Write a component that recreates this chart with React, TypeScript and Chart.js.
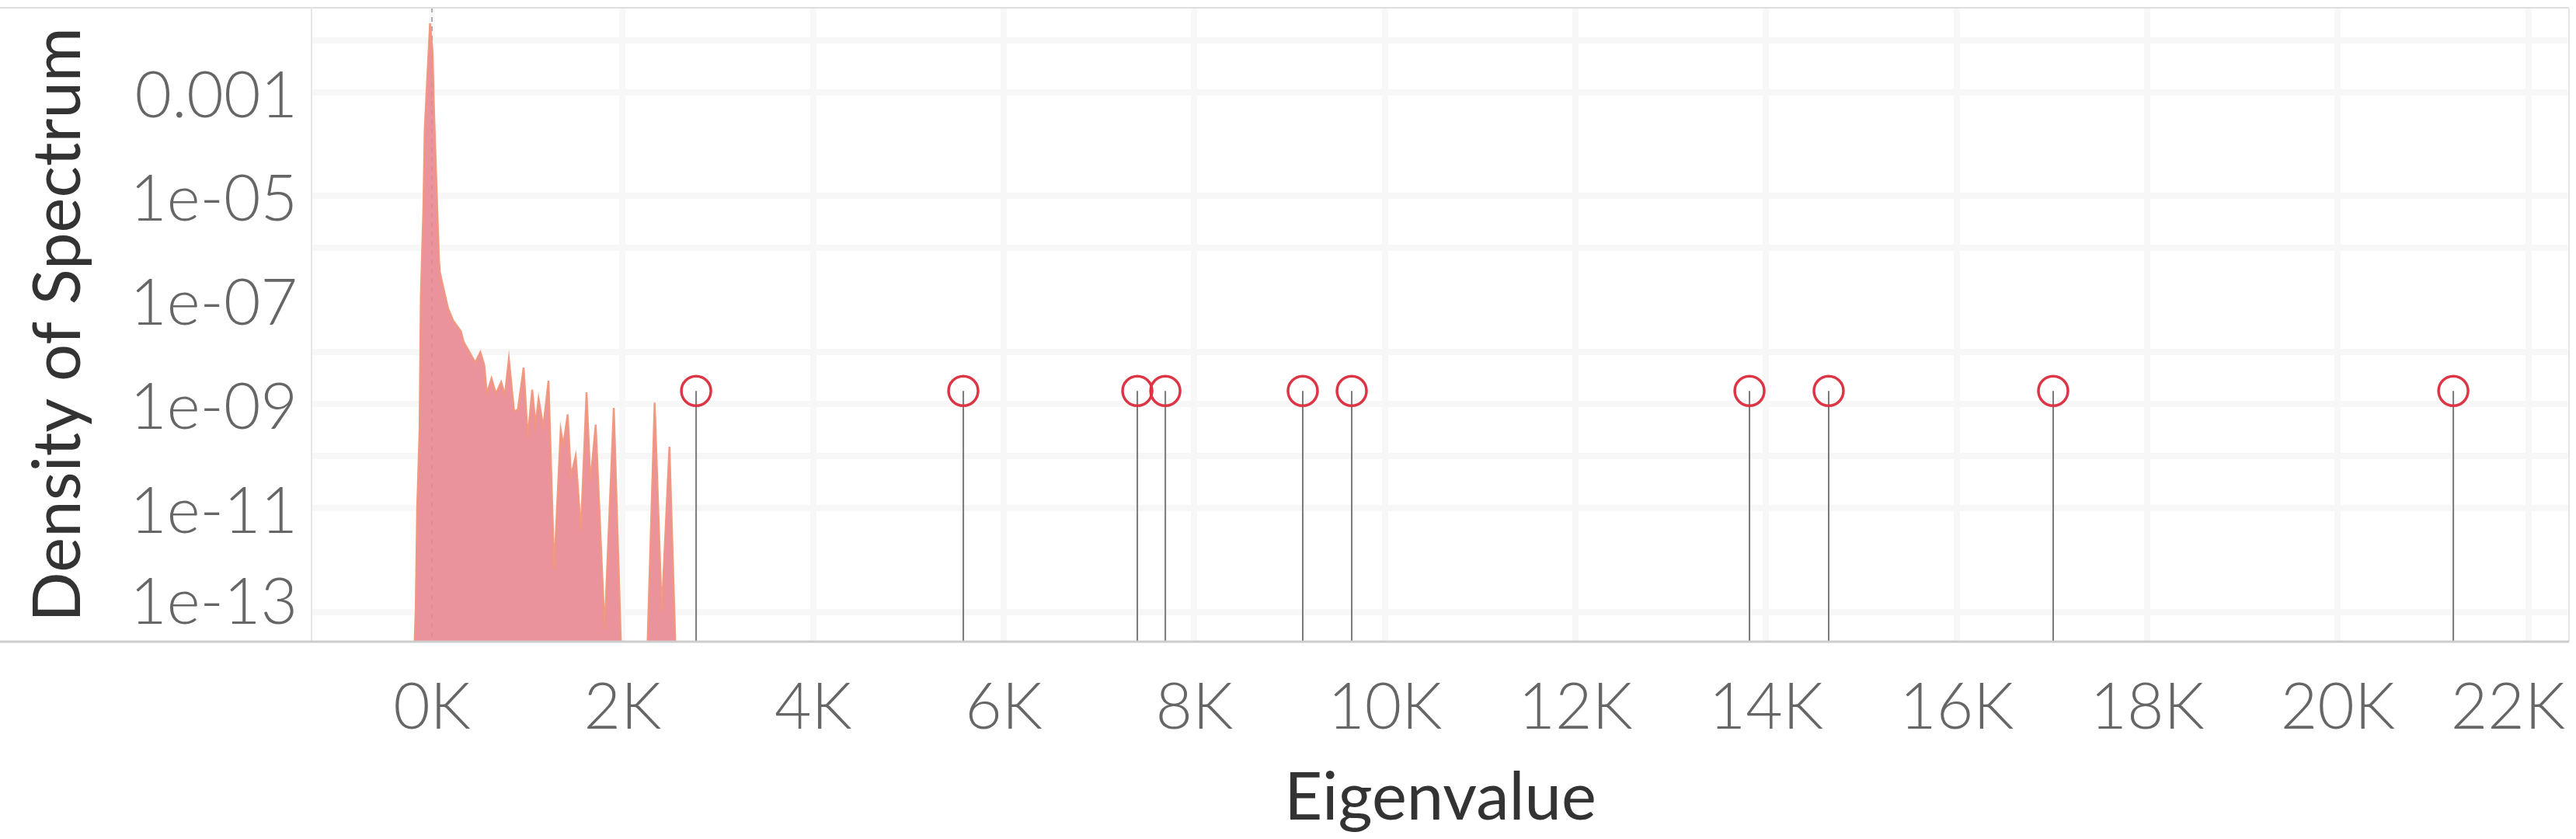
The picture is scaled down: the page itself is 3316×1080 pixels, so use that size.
import React, { useEffect, useRef } from 'react';
import { Chart, registerables } from 'chart.js';

Chart.register(...registerables);

// ---- data ----
const densityX = [-190, -171, -155, -130, -117, -90, -76, -49, -20, 6, 19, 46, 73, 82, 114, 169, 223, 304, 332, 386, 454, 508, 549, 576, 625, 671, 726, 766, 807, 862, 902, 962, 1005, 1052, 1087, 1119, 1168, 1223, 1282, 1351, 1378, 1424, 1459, 1508, 1563, 1622, 1663, 1718, 1812, 1908, 1989, 2256, 2337, 2411, 2492, 2560];
const densityY = [1e-14, 1.0e-13, 1.0e-11, 3.2e-10, 1.1e-7, 6.0e-6, 1.9e-4, 1.9e-3, 2.1e-2, 5.9e-3, 6.1e-4, 1.95e-5, 6.2e-7, 3.5e-7, 1.9e-7, 6.9e-8, 4.0e-8, 2.5e-8, 1.57e-8, 1.05e-8, 6.3e-9, 9.9e-9, 5.6e-9, 1.58e-9, 3.1e-9, 1.58e-9, 2.65e-9, 1.51e-9, 7.4e-9, 7.1e-10, 7.9e-10, 5.0e-9, 2.3e-10, 1.88e-9, 4.0e-10, 1.26e-9, 3.6e-10, 2.8e-9, 6.5e-13, 3.2e-10, 1.6e-10, 6.3e-10, 4.1e-11, 1.0e-10, 3.7e-12, 1.68e-9, 3.2e-11, 4.0e-10, 4.6e-14, 8.4e-10, 1e-14, 1e-14, 1.06e-9, 1.0e-13, 1.5e-10, 1e-14];

const outlierX = [2772, 5576, 7402, 7696, 9138, 9652, 13826, 14657, 17013, 21212];
const outlierY = [1.78e-9, 1.78e-9, 1.78e-9, 1.78e-9, 1.78e-9, 1.78e-9, 1.78e-9, 1.78e-9, 1.78e-9, 1.78e-9];

const xTickValues = [0, 2000, 4000, 6000, 8000, 10000, 12000, 14000, 16000, 18000, 20000, 22000];
const xTickLabels = ['0K', '2K', '4K', '6K', '8K', '10K', '12K', '14K', '16K', '18K', '20K', '22K'];

const yGridValues = [1e-13, 1e-11, 1e-10, 1e-9, 1e-8, 1e-6, 1e-5, 1e-3, 1e-2];
const yTickValues = [1e-3, 1e-5, 1e-7, 1e-9, 1e-11, 1e-13];
const yTickLabels = ['0.001', '1e-05', '1e-07', '1e-09', '1e-11', '1e-13'];

const xTitle = 'Eigenvalue';
const yTitle = 'Density of Spectrum';

const X_MIN = -1264;
const X_MAX = 22426;
const Y_MIN = 2.67e-14;
const Y_MAX = 0.042;
const FLOOR = 1e-14;

const W = 3316;
const H = 1080;

const textPlugin = {
  id: 'textAndFrame',
  afterDraw(chart: any) {
    const { ctx, chartArea: a, scales } = chart;
    const xs = scales.x;
    const ys = scales.y;
    ctx.save();
    // frame
    ctx.lineCap = 'butt';
    ctx.strokeStyle = '#dedede';
    ctx.lineWidth = 2;
    ctx.beginPath();
    ctx.moveTo(0, a.top);
    ctx.lineTo(a.right, a.top);
    ctx.stroke();
    ctx.strokeStyle = '#e6e6e6';
    ctx.beginPath();
    ctx.moveTo(a.left, a.top);
    ctx.lineTo(a.left, a.bottom);
    ctx.moveTo(a.right, a.top);
    ctx.lineTo(a.right, a.bottom);
    ctx.stroke();
    ctx.strokeStyle = '#cdcdcd';
    ctx.lineWidth = 3;
    ctx.beginPath();
    ctx.moveTo(0, a.bottom);
    ctx.lineTo(a.right, a.bottom);
    ctx.stroke();

    // y tick labels
    ctx.font = '300 82px Lato';
    ctx.fillStyle = '#666666';
    ctx.textAlign = 'right';
    ctx.textBaseline = 'alphabetic';
    yTickValues.forEach((v, i) => {
      const p = ys.getPixelForValue(v);
      const base = Math.min(p + 32, a.bottom - 23);
      ctx.fillText(yTickLabels[i], a.left - 18, base);
    });

    // x tick labels
    ctx.textAlign = 'center';
    xTickValues.forEach((v, i) => {
      const p = xs.getPixelForValue(v);
      const w = ctx.measureText(xTickLabels[i]).width;
      let cx = p;
      if (cx + w / 2 > a.right - 5) cx = a.right - 5 - w / 2;
      ctx.fillText(xTickLabels[i], cx, a.bottom + 112);
    });

    // titles
    ctx.font = '400 85px Lato';
    ctx.fillStyle = '#333333';
    ctx.textAlign = 'center';
    ctx.fillText(xTitle, (a.left + a.right) / 2, 1055);
    ctx.save();
    ctx.translate(103, (a.top + a.bottom) / 2);
    ctx.rotate(-Math.PI / 2);
    ctx.fillText(yTitle, 0, 0);
    ctx.restore();

    ctx.restore();
  },
};

export default function App() {
  const canvasRef = useRef<HTMLCanvasElement | null>(null);

  useEffect(() => {
    document.body.style.margin = '0';
    const canvas = canvasRef.current;
    if (!canvas) return;

    const areaData = densityX.map((x, i) => ({ x, y: densityY[i] }));
    const stemData: any[] = [];
    outlierX.forEach((x, i) => {
      stemData.push({ x, y: FLOOR });
      stemData.push({ x, y: outlierY[i] });
      stemData.push({ x, y: null });
    });
    const circleData = outlierX.map((x, i) => ({ x, y: outlierY[i] }));
    const zeroData = [
      { x: 0, y: Y_MAX },
      { x: 0, y: FLOOR },
    ];

    const chart = new Chart(canvas, {
      type: 'line',
      data: {
        datasets: [
          {
            data: circleData,
            showLine: false,
            pointRadius: 19,
            pointBorderWidth: 3.5,
            pointBorderColor: '#dc3545',
            pointBackgroundColor: 'rgba(255,255,255,0)',
            order: 1,
          } as any,
          {
            data: stemData,
            borderColor: '#7a7a7a',
            borderWidth: 2,
            pointRadius: 0,
            spanGaps: false,
            order: 2,
          },
          {
            data: areaData,
            borderColor: 'rgba(241,150,125,0.95)',
            borderWidth: 2.5,
            backgroundColor: 'rgba(233,135,145,0.9)',
            fill: 'start',
            pointRadius: 0,
            tension: 0,
            order: 3,
          },
          {
            data: zeroData,
            borderColor: 'rgba(140,140,140,0.7)',
            borderWidth: 2,
            borderDash: [6, 6],
            pointRadius: 0,
            order: 4,
          },
        ],
      },
      options: {
        animation: false,
        responsive: false,
        events: [],
        layout: { autoPadding: false, padding: { top: 10, right: 9, left: 0, bottom: 0 } },
        plugins: {
          legend: { display: false },
          tooltip: { enabled: false },
        },
        scales: {
          x: {
            type: 'linear',
            min: X_MIN,
            max: X_MAX,
            position: 'bottom',
            afterBuildTicks: (scale: any) => {
              scale.ticks = xTickValues.map((v) => ({ value: v }));
            },
            afterFit: (scale: any) => {
              scale.height = 254;
            },
            ticks: { display: false },
            border: { display: false },
            grid: {
              color: '#f7f7f7',
              lineWidth: 8,
              drawTicks: false,
            },
          },
          y: {
            type: 'logarithmic',
            min: Y_MIN,
            max: Y_MAX,
            position: 'left',
            afterBuildTicks: (scale: any) => {
              scale.ticks = yGridValues.map((v) => ({ value: v }));
            },
            afterFit: (scale: any) => {
              scale.width = 401;
            },
            ticks: { display: false },
            border: { display: false },
            grid: {
              color: '#f7f7f7',
              lineWidth: 8,
              drawTicks: false,
            },
          },
        },
      },
      plugins: [textPlugin],
    } as any);

    let alive = true;
    if ((document as any).fonts && (document as any).fonts.ready) {
      (document as any).fonts.ready.then(() => {
        if (alive) chart.update();
      });
    }

    return () => {
      alive = false;
      chart.destroy();
    };
  }, []);

  return (
    <div style={{ width: W, height: H, background: '#ffffff' }}>
      <canvas ref={canvasRef} width={W} height={H} style={{ display: 'block' }} />
    </div>
  );
}
